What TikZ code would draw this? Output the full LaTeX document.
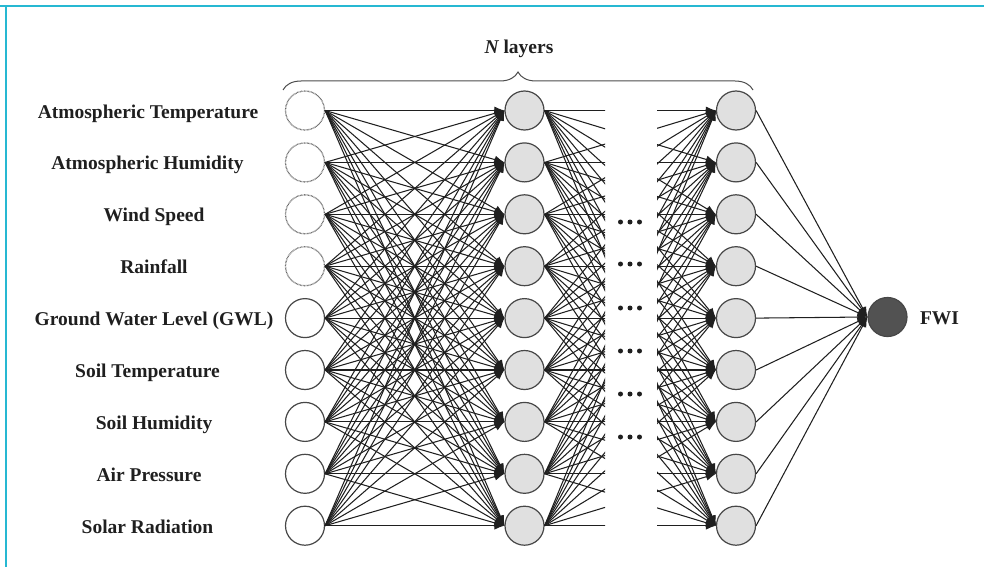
\documentclass[tikz,border=0pt]{standalone}
\usepackage{fontspec}
\setmainfont{Liberation Serif}
\usetikzlibrary{arrows.meta,decorations.pathreplacing}
\definecolor{framecol}{RGB}{38,184,210}
\begin{document}
\begin{tikzpicture}[x=1pt,y=-1pt,
 neuron/.style={circle, minimum size=39pt, inner sep=0pt, line width=1.2pt, draw=black!72},
 inp/.style={neuron, fill=white},
 inpdot/.style={neuron, fill=white, draw=black!60, dash pattern=on 0.7pt off 0.7pt, line width=1.3pt},
 hid/.style={neuron, fill=black!12},
 outn/.style={neuron, fill=black!68},
 lab/.style={font=\bfseries\fontsize{19.5}{22}\selectfont, text=black!88, anchor=base, inner sep=0pt},
 conn/.style={line width=1.05pt, draw=black!88},
 arr/.style={conn, -{Latex[length=10pt,width=8pt]}},
 dotmark/.style={fill=black!88}
]
\useasboundingbox (0,0) rectangle (984,567);
\draw[framecol, line width=1.8pt] (0,6) -- (984,6) (6,6) -- (6,567);

% nodes
\foreach \i in {1,...,4} \node[inpdot] (I\i) at (305, {110.5+51.9*(\i-1)}) {};
\foreach \i in {5,...,9} \node[inp] (I\i) at (305, {110.5+51.9*(\i-1)}) {};
\foreach \i in {1,...,9} \node[hid] (H\i) at (524.5, {110.5+51.9*(\i-1)}) {};
\foreach \i in {1,...,9} \node[hid] (L\i) at (736, {110.5+51.9*(\i-1)}) {};
\node[outn] (O) at (887.5, 317) {};

% labels
\node[lab] (t1) at (148, 118) {Atmospheric Temperature};
\node[lab] (t2) at (147.5, {118+51.9}) {Atmospheric Humidity};
\node[lab] (t3) at (154, {118+2*51.9}) {Wind Speed};
\node[lab] (t4) at (154, {118+3*51.9}) {Rainfall};
\node[lab] (t5) at (154, {118+4*51.9}) {Ground Water Level (GWL)};
\node[lab] (t6) at (147.5, {118+5*51.9}) {Soil Temperature};
\node[lab] (t7) at (154, {118+6*51.9}) {Soil Humidity};
\node[lab] (t8) at (149, {118+7*51.9}) {Air Pressure};
\node[lab] (t9) at (147.5, {118+8*51.9}) {Solar Radiation};
\node[lab] (fwi) at (939.5, 324.5) {FWI};
\node[lab] (nl) at (519, 54) {\itshape N\upshape{} layers};

% brace
\draw[decorate, decoration={brace, amplitude=18pt}, line width=1pt, black!70] (283,90) -- (753,90);

% connections input -> hidden 1
\foreach \i in {1,...,9} \foreach \j in {1,...,9} \draw[arr] (I\i.east) -- (H\j.west);

% hidden 1 -> hidden N (interrupted)
\begin{scope}
\clip (540,0) rectangle (605,567) (657,0) rectangle (722,567);
\foreach \i in {1,...,9} \foreach \j in {1,...,9} \draw[arr] (H\i.east) -- (L\j.west);
\end{scope}

% hidden N -> output
\foreach \i in {1,...,9} \draw[arr] (L\i.east) -- (O.west);

% ellipsis dots
\foreach \y in {222,264,308,351,394,437} \foreach \x in {620.5,630,639.5} \fill[dotmark] (\x,\y) circle (2.5);
\end{tikzpicture}
\end{document}
